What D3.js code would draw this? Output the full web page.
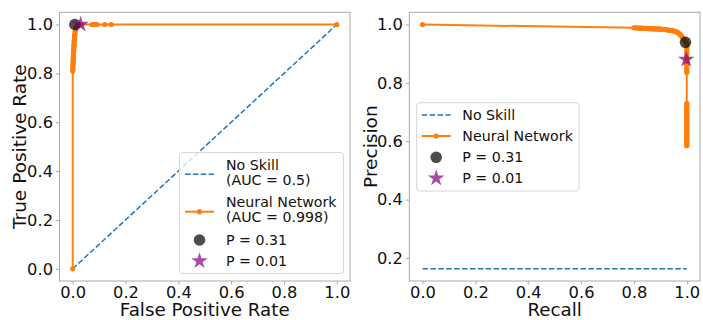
<!DOCTYPE html>
<html>
<head>
<meta charset="utf-8">
<script src="https://cdn.jsdelivr.net/npm/d3@7"></script>
<style>
  body { margin: 0; background: #fff; }
  svg { font-family: "DejaVu Sans", sans-serif; }
</style>
</head>
<body>
<div id="chart"></div>
<script>
    var width = 703, height = 320;

    // ROC curve (false positive rate / true positive rate)
    var rocFpr = [0, 0, 0.0005, 0.0005, 0.001, 0.001, 0.0015, 0.0015, 0.002, 0.002, 0.0025, 0.003, 0.003, 0.0035, 0.004, 0.004, 0.0045, 0.005, 0.005, 0.0055, 0.006, 0.0065, 0.007, 0.0075, 0.008, 0.009, 0.010, 0.011, 0.012, 0.014, 0.017, 0.020, 0.030, 0.073, 0.078, 0.083, 0.088, 0.092, 0.121, 0.146, 1.0];
    var rocTpr = [0, 0.81, 0.815, 0.82, 0.83, 0.835, 0.84, 0.85, 0.855, 0.86, 0.87, 0.875, 0.88, 0.89, 0.895, 0.90, 0.91, 0.915, 0.92, 0.93, 0.935, 0.94, 0.95, 0.955, 0.96, 0.97, 0.975, 0.98, 0.985, 0.99, 0.995, 0.998, 1.0, 1.0, 1.0, 1.0, 1.0, 1.0, 1.0, 1.0, 1.0];

    // precision-recall curve
    var prRecall = [0, 0.800, 0.805, 0.810, 0.815, 0.820, 0.825, 0.830, 0.835, 0.840, 0.845, 0.850, 0.855, 0.860, 0.865, 0.870, 0.875, 0.880, 0.885, 0.890, 0.895, 0.900, 0.905, 0.910, 0.915, 0.920, 0.925, 0.930, 0.935, 0.940, 0.945, 0.950, 0.955, 0.960, 0.965, 0.970, 0.975, 0.980, 0.985, 0.990, 0.995,
        1.0, 1.0, 1.0, 1.0, 1.0, 1.0, 1.0, 1.0, 1.0, 1.0, 1.0, 1.0, 1.0,
        1.0, 1.0, 1.0, 1.0, 1.0, 1.0, 1.0, 1.0, 1.0, 1.0, 1.0, 1.0, 1.0, 1.0, 1.0, 1.0, 1.0, 1.0, 1.0, 1.0, 1.0, 1.0, 1.0, 1.0, 1.0, 1.0, 1.0, 1.0, 1.0, 1.0];
    var prPrecision = [1.0, 0.989, 0.989, 0.989, 0.988, 0.988, 0.988, 0.988, 0.987, 0.987, 0.987, 0.987, 0.986, 0.986, 0.986, 0.986, 0.985, 0.985, 0.985, 0.985, 0.984, 0.984, 0.984, 0.983, 0.983, 0.983, 0.982, 0.981, 0.980, 0.980, 0.979, 0.978, 0.977, 0.975, 0.973, 0.970, 0.966, 0.961, 0.955, 0.948, 0.941,
        0.935, 0.925, 0.915, 0.905, 0.895, 0.885, 0.875, 0.868, 0.862, 0.855, 0.848, 0.842, 0.836,
        0.730, 0.725, 0.720, 0.715, 0.710, 0.705, 0.700, 0.695, 0.690, 0.685, 0.680, 0.675, 0.670, 0.665, 0.660, 0.655, 0.650, 0.645, 0.640, 0.635, 0.630, 0.625, 0.620, 0.615, 0.610, 0.605, 0.600, 0.595, 0.590, 0.585, 0.580, 0.575, 0.570, 0.563];

    var noSkillRoc = [[0, 0], [1, 1]];
    var noSkillPrec = 0.163;

    // chosen thresholds
    var rocP31 = [0.008, 1.0], rocP01 = [0.030, 1.0];
    var prP31 = [0.995, 0.939], prP01 = [0.998, 0.880];

    var ticksX = [0, 0.2, 0.4, 0.6, 0.8, 1.0];
    var ticksYL = [0, 0.2, 0.4, 0.6, 0.8, 1.0];
    var ticksYR = [0.2, 0.4, 0.6, 0.8, 1.0];

    var legendLeft = ['No Skill', '(AUC = 0.5)', 'Neural Network', '(AUC = 0.998)', 'P = 0.31', 'P = 0.01'];
    var legendRight = ['No Skill', 'Neural Network', 'P = 0.31', 'P = 0.01'];

    var blue = '#1f77b4', orange = '#ff7f0e', spine = '#aaaaaa';

    var svg = d3.select('#chart').append('svg')
        .attr('width', width)
        .attr('height', height);

    function panel(xr, yr, xdom, ydom, ticksY, xlabel, ylabel, ylabelX) {
        var x = d3.scaleLinear().domain(xdom).range(xr);
        var y = d3.scaleLinear().domain(ydom).range(yr);
        var g = svg.append('g');

        var xa = g.append('g').attr('transform', 'translate(0,' + yr[0] + ')')
            .call(d3.axisBottom(x).tickValues(ticksX).tickFormat(d3.format('.1f')).tickSize(3.5).tickPadding(1.5));
        var ya = g.append('g').attr('transform', 'translate(' + xr[0] + ',0)')
            .call(d3.axisLeft(y).tickValues(ticksY).tickFormat(d3.format('.1f')).tickSize(3.5).tickPadding(3));
        [xa, ya].forEach(function(a){
            a.attr('font-family', null).attr('font-size', null);
            a.select('.domain').remove();
            a.selectAll('line').attr('stroke', spine);
            a.selectAll('text').attr('fill', '#111').style('font-size', '16.3px');
        });

        g.append('rect')
            .attr('x', xr[0]).attr('y', yr[1])
            .attr('width', xr[1] - xr[0]).attr('height', yr[0] - yr[1])
            .attr('fill', 'none').attr('stroke', spine).attr('stroke-width', 1);

        g.append('text')
            .attr('x', (xr[0] + xr[1]) / 2).attr('y', 315.5)
            .attr('text-anchor', 'middle')
            .style('font-size', '18.3px').attr('fill', '#111')
            .text(xlabel);
        g.append('text')
            .attr('transform', 'translate(' + ylabelX + ',' + ((yr[0] + yr[1]) / 2) + ') rotate(-90)')
            .attr('text-anchor', 'middle')
            .style('font-size', '18.5px').attr('fill', '#111')
            .text(ylabel);

        var clip = 'clip' + Math.round(xr[0]);
        svg.append('clipPath').attr('id', clip).append('rect')
            .attr('x', xr[0]).attr('y', yr[1])
            .attr('width', xr[1] - xr[0]).attr('height', yr[0] - yr[1]);
        var plot = g.append('g').attr('clip-path', 'url(#' + clip + ')');
        return {x: x, y: y, g: g, plot: plot};
    }

    function curve(p, xs, ys) {
        var pts = xs.map(function(d, i){ return [d, ys[i]]; });
        var line = d3.line().x(function(d){ return p.x(d[0]); }).y(function(d){ return p.y(d[1]); });
        p.plot.append('path').attr('d', line(pts))
            .attr('fill', 'none').attr('stroke', orange).attr('stroke-width', 2);
        p.plot.selectAll('circle.m').data(pts).enter().append('circle')
            .attr('class', 'm')
            .attr('cx', function(d){ return p.x(d[0]); })
            .attr('cy', function(d){ return p.y(d[1]); })
            .attr('r', 2.6).attr('fill', orange);
    }

    var star = d3.symbol().type(d3.symbolStar).size(85);

    function markers(p, c, s) {
        p.plot.append('circle')
            .attr('cx', p.x(c[0])).attr('cy', p.y(c[1])).attr('r', 5.8)
            .attr('fill', 'black').attr('fill-opacity', 0.7);
        p.plot.append('path')
            .attr('d', star())
            .attr('transform', 'translate(' + p.x(s[0]) + ',' + p.y(s[1]) + ')')
            .attr('fill', 'purple').attr('fill-opacity', 0.7);
    }

    function legend(box, rows, textX, lines) {
        var g = svg.append('g');
        g.append('rect')
            .attr('x', box[0]).attr('y', box[1]).attr('width', box[2]).attr('height', box[3])
            .attr('rx', 3).attr('fill', 'white').attr('fill-opacity', 0.8)
            .attr('stroke', '#d6d6d6').attr('stroke-width', 1);
        lines.forEach(function(t, i){
            g.append('text').attr('x', textX).attr('y', rows[i] + 5)
                .style('font-size', '14.2px').attr('fill', '#111').text(t);
        });
        return g;
    }

    function handles(g, ys, hx) {
        var cx = (hx[0] + hx[1]) / 2;
        g.append('line').attr('x1', hx[0]).attr('x2', hx[1]).attr('y1', ys[0]).attr('y2', ys[0])
            .attr('stroke', blue).attr('stroke-width', 1.5).attr('stroke-dasharray', '5.5,2.4');
        g.append('line').attr('x1', hx[0]).attr('x2', hx[1]).attr('y1', ys[1]).attr('y2', ys[1])
            .attr('stroke', orange).attr('stroke-width', 2);
        g.append('circle').attr('cx', cx).attr('cy', ys[1]).attr('r', 2.6).attr('fill', orange);
        g.append('circle').attr('cx', cx).attr('cy', ys[2]).attr('r', 5.8)
            .attr('fill', 'black').attr('fill-opacity', 0.7);
        g.append('path').attr('d', star())
            .attr('transform', 'translate(' + cx + ',' + ys[3] + ')')
            .attr('fill', 'purple').attr('fill-opacity', 0.7);
    }

    // left: ROC
    var L = panel([59.5, 350], [281, 12.3], [-0.05, 1.05], [-0.05, 1.05], ticksYL, 'False Positive Rate', 'True Positive Rate', 26);
    L.plot.append('path')
        .attr('d', d3.line().x(function(d){ return L.x(d[0]); }).y(function(d){ return L.y(d[1]); })(noSkillRoc))
        .attr('fill', 'none').attr('stroke', blue).attr('stroke-width', 1.5).attr('stroke-dasharray', '5.5,2.4');
    curve(L, rocFpr, rocTpr);
    markers(L, rocP31, rocP01);
    var lg = legend([179.5, 152.5, 164, 121], [165, 180, 202.3, 216.7, 240, 261], 226, legendLeft);
    handles(lg, [174.3, 211.7, 240, 261], [185, 214]);

    // right: precision-recall
    var R = panel([409.3, 700], [281, 12.3], [-0.05, 1.05], [0.121, 1.042], ticksYR, 'Recall', 'Precision', 377);
    R.plot.append('line')
        .attr('x1', R.x(0)).attr('x2', R.x(1)).attr('y1', R.y(noSkillPrec)).attr('y2', R.y(noSkillPrec))
        .attr('stroke', blue).attr('stroke-width', 1.5).attr('stroke-dasharray', '5.5,2.4');
    curve(R, prRecall, prPrecision);
    markers(R, prP31, prP01);
    var rg = legend([416.7, 102.7, 162.3, 88.3], [115, 136, 157.3, 178.3], 462.3, legendRight);
    handles(rg, [115, 136, 157.3, 178.3], [421.7, 450.7]);
</script>
</body>
</html>
